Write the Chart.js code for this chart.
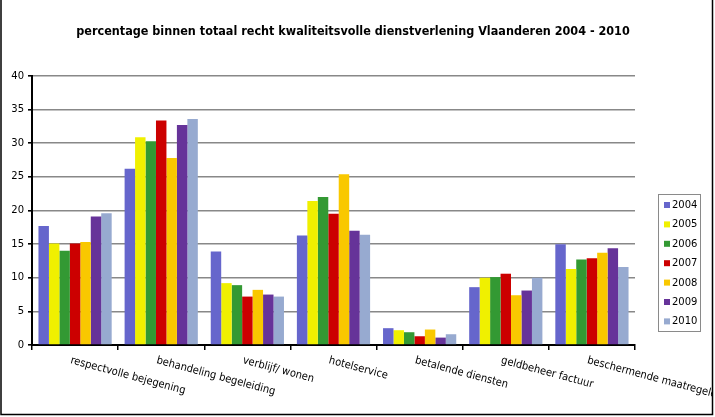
<!DOCTYPE html>
<html>
<head>
<meta charset="utf-8">
<script src="https://cdn.jsdelivr.net/npm/chart.js@4.4.0/dist/chart.umd.min.js"></script>
<style>
  html, body { margin: 0; padding: 0; background: #fff; }
  #wrap { width: 715px; height: 417px; }
</style>
</head>
<body>
<div id="wrap"><canvas id="chart" width="715" height="417"></canvas></div>
<script>
// categories and values per year
var categories = ["respectvolle bejegening", "behandeling begeleiding", "verblijf/ wonen",
    "hotelservice", "betalende diensten", "geldbeheer factuur", "beschermende maatregelen"];
var years = ["2004", "2005", "2006", "2007", "2008", "2009", "2010"];
var v2004 = [17.7, 26.2, 13.9, 16.3, 2.5, 8.6, 15.0];
var v2005 = [15.1, 30.9, 9.2, 21.4, 2.2, 10.0, 11.3];
var v2006 = [14.0, 30.3, 8.9, 22.0, 1.9, 10.1, 12.7];
var v2007 = [15.1, 33.4, 7.2, 19.5, 1.3, 10.6, 12.9];
var v2008 = [15.3, 27.8, 8.2, 25.4, 2.3, 7.4, 13.7];
var v2009 = [19.1, 32.7, 7.5, 17.0, 1.1, 8.1, 14.4];
var v2010 = [19.6, 33.6, 7.2, 16.4, 1.6, 10.0, 11.6];
var yTicks = [0, 5, 10, 15, 20, 25, 30, 35, 40];

var colors = ["#6666cc", "#f0f000", "#339933", "#cc0000", "#f9c800", "#663399", "#97aad0"];
var series = [v2004, v2005, v2006, v2007, v2008, v2009, v2010];

var labelFont = "11px 'DejaVu Sans Condensed', 'Liberation Sans Narrow', 'DejaVu Sans', sans-serif";

var datasets = years.map(function(y, i) {
    return {
        label: y,
        data: series[i],
        backgroundColor: colors[i],
        borderWidth: 0,
        categoryPercentage: 0.85,
        barPercentage: 1.0
    };
});

// slanted category labels, starting at the category centre and running down to the right
var slantLabels = {
    id: 'slantLabels',
    afterDraw: function(chart) {
        var ctx = chart.ctx;
        var xs = chart.scales.x;
        ctx.save();
        ctx.font = labelFont;
        ctx.fillStyle = "#000";
        ctx.textAlign = "left";
        ctx.textBaseline = "top";
        categories.forEach(function(c, i) {
            var x = xs.getPixelForValue(i);
            ctx.save();
            ctx.translate(x - 3, 355);
            ctx.rotate(15 * Math.PI / 180);
            ctx.fillText(c, 0, 0);
            ctx.restore();
        });
        ctx.restore();
    }
};

// centre the title over the whole picture, not just the plot
var titleShift = {
    id: 'titleShift',
    afterLayout: function(chart) {
        var tb = chart.titleBlock;
        if (tb) {
            tb.left = 0;
            tb.right = 706;
            tb.width = 706;
        }
    }
};

// boxed legend on the right
var boxLegend = {
    id: 'boxLegend',
    afterDraw: function(chart) {
        var ctx = chart.ctx;
        var left = 658, top = 194, w = 42, h = 137, step = 19.4;
        ctx.save();
        ctx.strokeStyle = "#8a8a8a";
        ctx.lineWidth = 1;
        ctx.strokeRect(left + 0.5, top + 0.5, w, h);
        ctx.font = "10px 'DejaVu Sans', sans-serif";
        ctx.textBaseline = "middle";
        chart.data.datasets.forEach(function(ds, i) {
            var cy = top + 11 + i * step;
            ctx.fillStyle = ds.backgroundColor;
            ctx.fillRect(left + 6, cy - 3, 6, 6);
            ctx.fillStyle = "#000";
            ctx.fillText(ds.label, left + 14, cy + 0.5);
        });
        ctx.restore();
    }
};

// outer frame
var frame = {
    id: 'frame',
    afterDraw: function(chart) {
        var ctx = chart.ctx;
        ctx.save();
        // white out what lies right of the frame
        ctx.fillStyle = "#fff";
        ctx.fillRect(713, 0, 5, 417);
        ctx.strokeStyle = "#000";
        ctx.lineWidth = 1.5;
        ctx.beginPath();
        ctx.moveTo(1, 0);
        ctx.lineTo(1, 414.5);
        ctx.lineTo(712.5, 414.5);
        ctx.lineTo(712.5, 0);
        ctx.stroke();
        ctx.restore();
    }
};

new Chart(document.getElementById("chart"), {
    type: 'bar',
    data: { labels: categories, datasets: datasets },
    options: {
        responsive: false,
        animation: false,
        layout: { padding: { left: 2, right: 80, top: 0, bottom: 0 } },
        plugins: {
            legend: { display: false },
            tooltip: { enabled: false },
            title: {
                display: true,
                text: "percentage binnen totaal recht kwaliteitsvolle dienstverlening Vlaanderen 2004 - 2010",
                color: "#000",
                font: { family: "'DejaVu Sans Condensed', 'DejaVu Sans', sans-serif", size: 12.5, weight: 'bold' },
                padding: { top: 24, bottom: 37 }
            }
        },
        scales: {
            y: {
                min: 0,
                max: 40,
                afterBuildTicks: function(s) { s.ticks = yTicks.map(function(v) { return { value: v }; }); },
                afterFit: function(s) { s.width = 30; },
                ticks: {
                    color: "#000",
                    padding: 4,
                    font: { family: "'DejaVu Sans', sans-serif", size: 10 }
                },
                grid: { color: "#888", lineWidth: 1.6, tickLength: 4, tickColor: "#000" },
                border: { color: "#000", width: 2 }
            },
            x: {
                ticks: { display: false },
                afterFit: function(s) { s.height = 72; },
                grid: { offset: true, drawOnChartArea: false, tickLength: 5, color: "#000", lineWidth: 1.5 },
                border: { color: "#000", width: 2 }
            }
        }
    },
    plugins: [titleShift, slantLabels, boxLegend, frame]
});
</script>
</body>
</html>
